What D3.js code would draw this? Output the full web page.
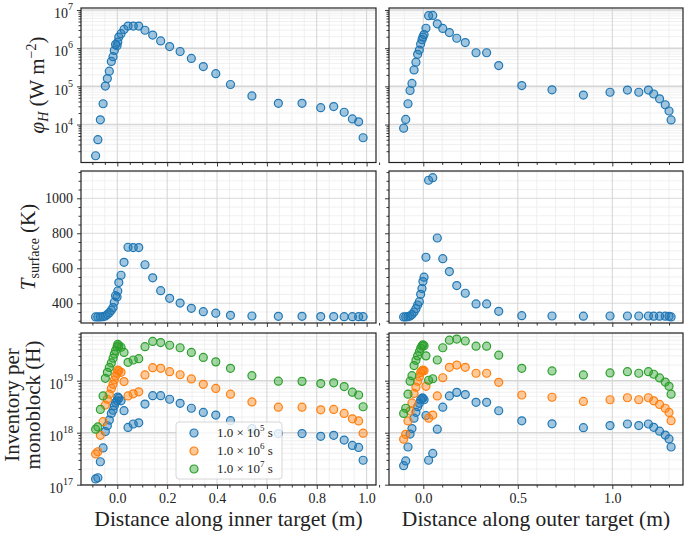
<!DOCTYPE html>
<html>
<head>
<meta charset="utf-8">
<script src="https://cdn.jsdelivr.net/npm/d3@7.9.0/dist/d3.min.js"></script>
<style>
  body { margin: 0; background: #fff; }
  text { font-family: "Liberation Serif", "DejaVu Serif", serif; fill: #222; }
</style>
</head>
<body>
<svg id="chart" width="685" height="533"></svg>
<script>
// inner target
const innerX = [-0.087, -0.078, -0.068, -0.057, -0.048, -0.040, -0.032, -0.024, -0.017, -0.012, -0.007, -0.001, 0.002, 0.006, 0.015, 0.027, 0.043, 0.064, 0.086, 0.111, 0.142, 0.174, 0.210, 0.252, 0.297, 0.345, 0.395, 0.454, 0.540, 0.646, 0.741, 0.816, 0.868, 0.910, 0.943, 0.968, 0.986];
const innerFlux = [1.52e3, 4.0e3, 1.33e4, 3.5e4, 1.02e5, 1.6e5, 2.5e5, 4.5e5, 6.0e5, 8.7e5, 1.24e6, 1.16e6, 1.45e6, 1.96e6, 2.4e6, 3.1e6, 3.8e6, 3.8e6, 3.8e6, 2.95e6, 2.2e6, 1.55e6, 1.1e6, 8.2e5, 5.4e5, 3.3e5, 2.15e5, 1.12e5, 5.6e4, 3.6e4, 3.6e4, 2.76e4, 2.95e4, 2.1e4, 1.4e4, 1.18e4, 4.5e3];
const innerTemp = [322, 322, 322, 323, 327, 335, 346, 360, 375, 406, 443, 436, 470, 518, 560, 634, 720, 718, 718, 620, 545, 472, 428, 401, 371, 352, 343, 331, 327, 325, 325, 324, 324, 323, 323, 323, 323];
const innerInv5 = [1.29e17, 1.36e17, 2.76e17, 5.1e17, 1.05e18, 1.36e18, 1.75e18, 2.35e18, 2.7e18, 3.3e18, 3.8e18, 4.1e18, 4.85e18, 4.6e18, 4.1e18, 2.65e18, 1.26e18, 1.47e18, 1.55e18, 3.55e18, 5.15e18, 5.15e18, 4.4e18, 3.67e18, 2.95e18, 2.45e18, 2.18e18, 1.7e18, 1.2e18, 9.6e17, 9.6e17, 8.5e17, 8.9e17, 7.2e17, 5.7e17, 5.2e17, 2.95e17];
const innerInv6 = [3.9e17, 4.3e17, 8.9e17, 1.63e18, 3.4e18, 4.4e18, 5.5e18, 7.1e18, 8.5e18, 1.03e19, 1.23e19, 1.39e19, 1.6e19, 1.54e19, 1.45e19, 9.6e18, 5.1e18, 5.6e18, 6.1e18, 1.29e19, 1.78e19, 1.73e19, 1.49e19, 1.3e19, 1.08e19, 8.5e18, 7.1e18, 5.5e18, 3.9e18, 3.1e18, 3.1e18, 2.75e18, 2.8e18, 2.35e18, 1.85e18, 1.68e18, 9.8e17];
const innerInv7 = [1.17e18, 1.29e18, 2.8e18, 5.1e18, 1.11e19, 1.45e19, 1.8e19, 2.2e19, 2.7e19, 3.25e19, 3.8e19, 4.5e19, 5.0e19, 4.7e19, 4.4e19, 3.5e19, 2.25e19, 2.5e19, 2.65e19, 4.5e19, 5.7e19, 5.4e19, 4.8e19, 4.3e19, 3.5e19, 2.8e19, 2.3e19, 1.73e19, 1.25e19, 9.8e18, 9.7e18, 8.8e18, 9.1e18, 7.7e18, 6.0e18, 5.3e18, 3.15e18];

// outer target
const outerX = [-0.104, -0.093, -0.081, -0.070, -0.060, -0.049, -0.039, -0.030, -0.021, -0.014, -0.007, -0.002, 0.004, 0.014, 0.028, 0.050, 0.074, 0.103, 0.138, 0.177, 0.222, 0.279, 0.335, 0.399, 0.521, 0.681, 0.847, 0.988, 1.080, 1.140, 1.191, 1.219, 1.250, 1.280, 1.300, 1.311];
const outerFlux = [8.0e3, 1.36e4, 3.5e4, 7.8e4, 1.19e5, 2.7e5, 4.3e5, 6.9e5, 8.9e5, 1.29e6, 1.67e6, 1.96e6, 2.28e6, 3.33e6, 7.1e6, 7.2e6, 4.35e6, 3.3e6, 2.57e6, 1.82e6, 1.4e6, 7.6e5, 7.6e5, 3.5e5, 1.05e5, 8.1e4, 5.9e4, 7.0e4, 8.0e4, 7.0e4, 8.0e4, 6.3e4, 4.7e4, 3.3e4, 2.26e4, 1.32e4];
const outerTemp = [322, 322, 323, 327, 335, 350, 369, 390, 409, 451, 484, 524, 549, 663, 1103, 1118, 773, 655, 581, 501, 457, 396, 396, 354, 329, 327, 326, 327, 327, 327, 327, 326, 326, 326, 325, 322];
const outerInv5 = [2.32e17, 2.86e17, 5.3e17, 9.4e17, 1.2e18, 1.9e18, 2.46e18, 3.16e18, 3.67e18, 4.3e18, 4.6e18, 4.6e18, 4.3e18, 2.14e18, 2.95e17, 4.0e17, 1.17e18, 3.1e18, 5.1e18, 5.96e18, 5.4e18, 3.83e18, 3.83e18, 2.64e18, 1.69e18, 1.48e18, 1.25e18, 1.37e18, 1.47e18, 1.37e18, 1.47e18, 1.27e18, 1.07e18, 9.0e17, 7.6e17, 5.3e17];
const outerInv6 = [7.5e17, 9.3e17, 1.68e18, 2.6e18, 3.73e18, 5.7e18, 7.5e18, 9.8e18, 1.2e19, 1.43e19, 1.53e19, 1.6e19, 1.56e19, 7.8e18, 1.9e18, 2.18e18, 5.1e18, 1.14e19, 1.81e19, 2.0e19, 1.81e19, 1.39e19, 1.39e19, 9.3e18, 5.3e18, 4.8e18, 4.0e18, 4.3e18, 4.7e18, 4.3e18, 4.7e18, 4.1e18, 3.5e18, 2.95e18, 2.45e18, 1.7e18];
const outerInv7 = [2.35e18, 2.95e18, 5.5e18, 9.8e18, 1.25e19, 1.95e19, 2.46e19, 3.0e19, 3.6e19, 4.2e19, 4.65e19, 4.9e19, 4.7e19, 3.0e19, 1.02e19, 1.09e19, 2.5e19, 4.3e19, 6.0e19, 6.3e19, 5.8e19, 4.6e19, 4.6e19, 3.1e19, 1.73e19, 1.54e19, 1.29e19, 1.41e19, 1.49e19, 1.39e19, 1.49e19, 1.33e19, 1.13e19, 9.4e18, 7.8e18, 5.5e18];

// legend: exponent of the time (s)
const timeExponents = [5, 6, 7];
const colors = ['#1f77b4', '#ff7f0e', '#2ca02c'];

const tempTicks = [400, 600, 800, 1000];
const innerTicks = [0.0, 0.2, 0.4, 0.6, 0.8, 1.0];
const outerTicks = [0.0, 0.5, 1.0];

const svg = d3.select('#chart');

// layout
const cols = [
  { x0: 81, x1: 376, domain: [-0.1456, 1.0377], major: innerTicks, minorStep: 0.05 },
  { x0: 389, x1: 683, domain: [-0.1815, 1.374], major: outerTicks, minorStep: 0.1 },
];
const rows = [
  { y0: 8, y1: 162.5, type: 'log', domain: [Math.pow(10, 3.005), Math.pow(10, 7.053)] },
  { y0: 171, y1: 323, type: 'lin', domain: [287, 1156] },
  { y0: 333, y1: 485, type: 'log', domain: [Math.pow(10, 16.994), Math.pow(10, 19.917)] },
];

const series = [
  [[innerFlux], [outerFlux]],
  [[innerTemp], [outerTemp]],
  [[innerInv5, innerInv6, innerInv7], [outerInv5, outerInv6, outerInv7]],
];
const xs = [innerX, outerX];

function range(a, b, step) {
  const out = [];
  const n = Math.round((b - a) / step);
  for (let i = 0; i <= n; i++) out.push(+(a + i * step).toFixed(6));
  return out;
}

function logTicks(domain) {
  const lo = Math.floor(Math.log10(domain[0]));
  const hi = Math.ceil(Math.log10(domain[1]));
  const major = [], minor = [];
  for (let e = lo; e <= hi; e++) {
    const v = Math.pow(10, e);
    if (v >= domain[0] && v <= domain[1]) major.push(v);
    for (let k = 2; k <= 9; k++) {
      const m = k * v;
      if (m >= domain[0] && m <= domain[1]) minor.push(m);
    }
  }
  return { major, minor };
}

rows.forEach((row, ri) => {
  cols.forEach((col, ci) => {
    const x = d3.scaleLinear().domain(col.domain).range([col.x0, col.x1]);
    const y = row.type === 'log'
      ? d3.scaleLog().domain(row.domain).range([row.y1, row.y0])
      : d3.scaleLinear().domain(row.domain).range([row.y1, row.y0]);

    let yMajor, yMinor;
    if (row.type === 'log') {
      ({ major: yMajor, minor: yMinor } = logTicks(row.domain));
    } else {
      yMajor = tempTicks;
      yMinor = range(300, 1150, 50).filter((v) => !tempTicks.includes(v));
    }
    const xMinor = range(-0.1, col.domain[1], col.minorStep)
      .filter((v) => v >= col.domain[0] && !col.major.some((m) => Math.abs(m - v) < 1e-6));

    const g = svg.append('g');

    // gridlines (minor first, then major)
    const grid = g.append('g');
    grid.selectAll('.vminor').data(xMinor).join('line')
      .attr('x1', (d) => x(d)).attr('x2', (d) => x(d))
      .attr('y1', row.y0).attr('y2', row.y1)
      .attr('stroke', '#ececec').attr('stroke-width', 0.8);
    grid.selectAll('.hminor').data(yMinor).join('line')
      .attr('y1', (d) => y(d)).attr('y2', (d) => y(d))
      .attr('x1', col.x0).attr('x2', col.x1)
      .attr('stroke', '#ececec').attr('stroke-width', 0.8);
    grid.selectAll('.vmajor').data(col.major).join('line')
      .attr('x1', (d) => x(d)).attr('x2', (d) => x(d))
      .attr('y1', row.y0).attr('y2', row.y1)
      .attr('stroke', '#cfcfcf').attr('stroke-width', 0.9);
    grid.selectAll('.hmajor').data(yMajor).join('line')
      .attr('y1', (d) => y(d)).attr('y2', (d) => y(d))
      .attr('x1', col.x0).attr('x2', col.x1)
      .attr('stroke', '#d6d6d6').attr('stroke-width', row.type === 'log' ? 1.6 : 0.9);

    // points
    series[ri][ci].forEach((vals, si) => {
      const color = colors[si];
      g.append('g').selectAll('circle')
        .data(vals.map((v, i) => [xs[ci][i], v]))
        .join('circle')
        .attr('cx', (d) => x(d[0]))
        .attr('cy', (d) => y(d[1]))
        .attr('r', 4)
        .attr('fill', color).attr('fill-opacity', 0.42)
        .attr('stroke', color).attr('stroke-width', 1.2);
    });

    // bottom axis
    g.append('g').attr('transform', `translate(0,${row.y1})`)
      .call(d3.axisBottom(x).tickValues(col.major).tickSize(4).tickPadding(4)
        .tickFormat(ri === 2 ? d3.format('.1f') : () => ''));
    g.append('g').attr('transform', `translate(0,${row.y1})`)
      .call(d3.axisBottom(x).tickValues(xMinor).tickSize(2.5).tickFormat(() => ''));

    // left axis
    const yAxis = g.append('g').attr('transform', `translate(${col.x0},0)`)
      .call(d3.axisLeft(y).tickValues(yMajor).tickSize(4).tickPadding(4)
        .tickFormat(() => ''));
    g.append('g').attr('transform', `translate(${col.x0},0)`)
      .call(d3.axisLeft(y).tickValues(yMinor).tickSize(2.5).tickFormat(() => ''));

    if (ci === 0) {
      yAxis.selectAll('.tick text').each(function (d) {
        const t = d3.select(this);
        if (row.type === 'log') {
          t.attr('dy', '0.55em').text('10');
          t.append('tspan').attr('dy', -8).attr('font-size', 10)
            .text(Math.round(Math.log10(d)));
        } else {
          t.text(d);
        }
      });
    }

    g.selectAll('.domain').remove();
    g.selectAll('.tick line').attr('stroke', '#222').attr('stroke-width', 0.9);
    g.selectAll('.tick text').attr('font-size', 14).attr('font-family', null).style('fill', '#222');

    // frame
    g.append('rect')
      .attr('x', col.x0).attr('y', row.y0)
      .attr('width', col.x1 - col.x0).attr('height', row.y1 - row.y0)
      .attr('fill', 'none').attr('stroke', '#222').attr('stroke-width', 1.2);
  });
});

// axis labels
const fluxLabel = svg.append('text')
  .attr('transform', 'translate(44,85) rotate(-90)')
  .attr('text-anchor', 'middle').attr('font-size', 21);
fluxLabel.append('tspan').attr('font-style', 'italic').text('φ');
fluxLabel.append('tspan').attr('font-style', 'italic').attr('font-size', 14).attr('dy', 4).text('H');
fluxLabel.append('tspan').attr('dy', -4).text(' (W m');
fluxLabel.append('tspan').attr('font-size', 14).attr('dy', -8).text('−2');
fluxLabel.append('tspan').attr('dy', 8).text(')');

const tempLabel = svg.append('text')
  .attr('transform', 'translate(35,247) rotate(-90)')
  .attr('text-anchor', 'middle').attr('font-size', 21);
tempLabel.append('tspan').attr('font-style', 'italic').text('T');
tempLabel.append('tspan').attr('font-size', 14).attr('dy', 4).text('surface');
tempLabel.append('tspan').attr('dy', -4).text(' (K)');

const invLabel = svg.append('text')
  .attr('transform', 'translate(19,405) rotate(-90)')
  .attr('text-anchor', 'middle').attr('font-size', 21);
invLabel.append('tspan').attr('x', 0).attr('dy', 0).text('Inventory per');
invLabel.append('tspan').attr('x', 0).attr('dy', 21).text('monoblock (H)');

svg.append('text').attr('x', (cols[0].x0 + cols[0].x1) / 2).attr('y', 526)
  .attr('text-anchor', 'middle').attr('font-size', 21.5)
  .text('Distance along inner target (m)');
svg.append('text').attr('x', (cols[1].x0 + cols[1].x1) / 2).attr('y', 526)
  .attr('text-anchor', 'middle').attr('font-size', 21.5)
  .text('Distance along outer target (m)');

// legend
const legend = svg.append('g').attr('transform', 'translate(176,422)');
legend.append('rect')
  .attr('width', 106).attr('height', 57).attr('rx', 3)
  .attr('fill', '#fff').attr('fill-opacity', 0.8)
  .attr('stroke', '#cccccc').attr('stroke-width', 0.8);
timeExponents.forEach((e, i) => {
  const row = legend.append('g').attr('transform', `translate(0,${11 + i * 18})`);
  row.append('circle').attr('cx', 18).attr('cy', 0).attr('r', 4)
    .attr('fill', colors[i]).attr('fill-opacity', 0.42)
    .attr('stroke', colors[i]).attr('stroke-width', 1.2);
  const t = row.append('text').attr('x', 41).attr('y', 4).attr('font-size', 13);
  t.append('tspan').text('1.0 × 10');
  t.append('tspan').attr('font-size', 9).attr('dy', -6).text(e);
  t.append('tspan').attr('dy', 6).text(' s');
});
</script>
</body>
</html>
